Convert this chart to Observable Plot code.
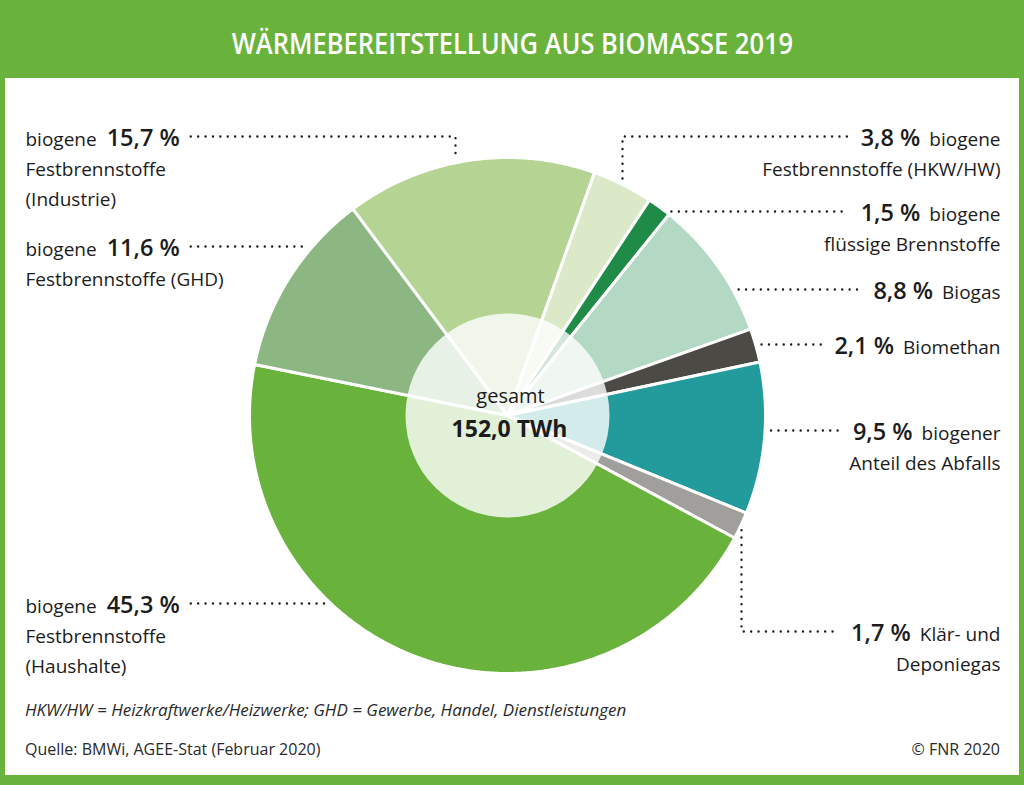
<!DOCTYPE html>
<html><head><meta charset="utf-8">
<script src="https://cdn.jsdelivr.net/npm/d3@7"></script>
<script src="https://cdn.jsdelivr.net/npm/@observablehq/plot@0.6"></script>
<style>
body{margin:0;background:#fff;}
#frame{position:relative;width:1024px;height:785px;background:#69b23b;overflow:hidden;font-family:"Open Sans",sans-serif;}
#title{height:78px;line-height:78px;text-align:center;color:#fff;font-weight:600;font-size:28px;}
#title span{display:inline-block;transform:scaleX(0.91);padding-top:4px;}
#panel{position:absolute;left:5px;top:78px;width:1014px;height:697px;background:#fff;}
#chart{position:absolute;left:0;top:0;}
.note{position:absolute;left:20px;font-size:16px;line-height:20px;color:#2a2a2a;white-space:nowrap;}
</style></head><body>
<div id="frame">
  <div id="title"><span>WÄRMEBEREITSTELLUNG AUS BIOMASSE 2019</span></div>
  <div id="panel">
    <div id="chart"></div>
    <div class="note" style="top:622px;font-style:italic;font-size:17px">HKW/HW = Heizkraftwerke/Heizwerke; GHD = Gewerbe, Handel, Dienstleistungen</div>
    <div class="note" style="top:661px">Quelle: BMWi, AGEE-Stat (Februar 2020)</div>
    <div class="note" style="top:661px;left:auto;right:19px">© FNR 2020</div>
  </div>
</div>
<script>
// ---------- data ----------
const categories = ["HKW/HW", "flüssig", "Biogas", "Biomethan", "Abfall", "Klärgas", "Haushalte", "GHD", "Industrie"];
const shares = [3.8, 1.5, 8.8, 2.1, 9.5, 1.7, 45.3, 11.6, 15.7];
const pctLabels = ["3,8 %", "1,5 %", "8,8 %", "2,1 %", "9,5 %", "1,7 %", "45,3 %", "11,6 %", "15,7 %"];
const labelLines = [
  ["biogene", "Festbrennstoffe (HKW/HW)"],
  ["biogene", "flüssige Brennstoffe"],
  ["Biogas"],
  ["Biomethan"],
  ["biogener", "Anteil des Abfalls"],
  ["Klär- und", "Deponiegas"],
  ["biogene", "Festbrennstoffe", "(Haushalte)"],
  ["biogene", "Festbrennstoffe (GHD)"],
  ["biogene", "Festbrennstoffe", "(Industrie)"]
];
const centerLabel = "gesamt";
const totalLabel = "152,0 TWh";

// ---------- styles ----------
const sliceColors = ["#dbe9c8", "#1f8b47", "#b3d8c3", "#4b4a45", "#239a9b", "#a19f9b", "#69b23b", "#8cb782", "#b5d494"];
const FONT = '"Open Sans", sans-serif';
const REG = 19, BOLD = 23.5, BW = 600, TEXT = "#1c1c1c";

// ---------- layout (svg pixel space) ----------
const W = 1014, H = 612;
const cx = 502, cy = 337, R = 258, r0 = 102, startAngle = 19.7;
const leftX = 20, rightX = 995, lineStep = 30, gap = 6;
const labelLayout = [
  {side: "right", y: 67, elbowX: 617, elbow: "above"},
  {side: "right", y: 142},
  {side: "right", y: 220},
  {side: "right", y: 275},
  {side: "right", y: 361},
  {side: "right", y: 562, elbowX: 736, elbow: "below"},
  {side: "left", y: 534},
  {side: "left", y: 177},
  {side: "left", y: 67, elbowX: 450, elbow: "above"}
];

// ---------- measurement ----------
const ctx = document.createElement("canvas").getContext("2d");
function tw(s, size, weight) { ctx.font = `${weight} ${size}px ${FONT}`; return ctx.measureText(s).width; }

// ---------- slices ----------
const total = d3.sum(shares);
let acc = 0;
function pt(a, r) { const t = a * Math.PI / 180; return [cx + r * Math.sin(t), cy - r * Math.cos(t)]; }
const sliceFeatures = shares.map((v, i) => {
  const a0 = startAngle + acc / total * 360; acc += v;
  const a1 = startAngle + acc / total * 360;
  const n = Math.max(2, Math.ceil((a1 - a0) / 0.5));
  const ring = [[cx, cy]];
  for (let k = 0; k <= n; k++) ring.push(pt(a0 + (a1 - a0) * k / n, R));
  ring.push([cx, cy]);
  return {type: "Feature", properties: {cat: categories[i], color: sliceColors[i]}, geometry: {type: "Polygon", coordinates: [ring]}};
});

// ---------- labels & leaders ----------
const regStart = [], regEnd = [], boldStart = [], boldEnd = [], leaders = [];
labelLines.forEach((lines, i) => {
  const L = labelLayout[i];
  const ly = L.y - 9;
  if (L.side === "left") {
    const w0 = tw(lines[0], REG, 400);
    const px = leftX + w0 + 10;
    const pctEnd = px + tw(pctLabels[i], BOLD, BW);
    regStart.push({x: leftX, y: L.y, t: lines[0]});
    boldStart.push({x: px, y: L.y, t: pctLabels[i]});
    lines.slice(1).forEach((s, k) => regStart.push({x: leftX, y: L.y + lineStep * (k + 1), t: s}));
    const x0 = pctEnd + 11;
    if (L.elbowX != null) {
      const ey = cy - Math.sqrt(R * R - (L.elbowX - cx) ** 2) - gap;
      [[x0, ly], [L.elbowX, ly], [L.elbowX, ey]].forEach(p => leaders.push({id: i, x: p[0], y: p[1]}));
    } else {
      const ex = cx - Math.sqrt(R * R - (ly - cy) ** 2) - gap;
      [[x0, ly], [ex, ly]].forEach(p => leaders.push({id: i, x: p[0], y: p[1]}));
    }
  } else {
    const w0 = tw(lines[0], REG, 400);
    const pEnd = rightX - w0 - 9;
    const pStart = pEnd - tw(pctLabels[i], BOLD, BW);
    regEnd.push({x: rightX, y: L.y, t: lines[0]});
    boldEnd.push({x: pEnd, y: L.y, t: pctLabels[i]});
    lines.slice(1).forEach((s, k) => regEnd.push({x: rightX, y: L.y + lineStep * (k + 1), t: s}));
    const x1 = pStart - 13;
    if (L.elbowX != null) {
      const dy = Math.sqrt(R * R - (L.elbowX - cx) ** 2);
      const ey = L.elbow === "above" ? cy - dy - gap : cy + dy + gap;
      [[L.elbowX, ey], [L.elbowX, ly], [x1, ly]].forEach(p => leaders.push({id: i, x: p[0], y: p[1]}));
    } else {
      const ex = cx + Math.sqrt(R * R - (ly - cy) ** 2) + gap;
      [[ex, ly], [x1, ly]].forEach(p => leaders.push({id: i, x: p[0], y: p[1]}));
    }
  }
});

const frameRect = {type: "Polygon", coordinates: [[[0, 0], [0, H], [W, H], [W, 0], [0, 0]]]};
const txt = (data, anchor, size, weight) => Plot.text(data, {
  x: "x", y: "y", text: "t", textAnchor: anchor, lineAnchor: "bottom",
  fontFamily: FONT, fontSize: size, fontWeight: weight, fill: TEXT
});

const chart = Plot.plot({
  width: W, height: H, margin: 0,
  projection: {type: "identity", domain: frameRect},
  style: {background: "transparent", overflow: "visible"},
  marks: [
    Plot.geo(sliceFeatures, {fill: d => d.properties.color, stroke: "white", strokeWidth: 3}),
    Plot.dot([{x: cx, y: cy}], {x: "x", y: "y", r: r0, fill: "white", fillOpacity: 0.8, stroke: "none"}),
    Plot.line(leaders, {x: "x", y: "y", z: "id", stroke: "#1c1c1c", strokeWidth: 2.4,
      strokeDasharray: "0 7.4", strokeLinecap: "round"}),
    txt(regStart, "start", REG, 400),
    txt(regEnd, "end", REG, 400),
    txt(boldStart, "start", BOLD, BW),
    txt(boldEnd, "end", BOLD, BW),
    txt([{x: cx + 3, y: cy - 13, t: centerLabel}], "middle", 20, 400),
    txt([{x: cx + 2, y: cy + 21, t: totalLabel}], "middle", 23, 700)
  ]
});
document.getElementById("chart").appendChild(chart);
</script>
</body></html>
